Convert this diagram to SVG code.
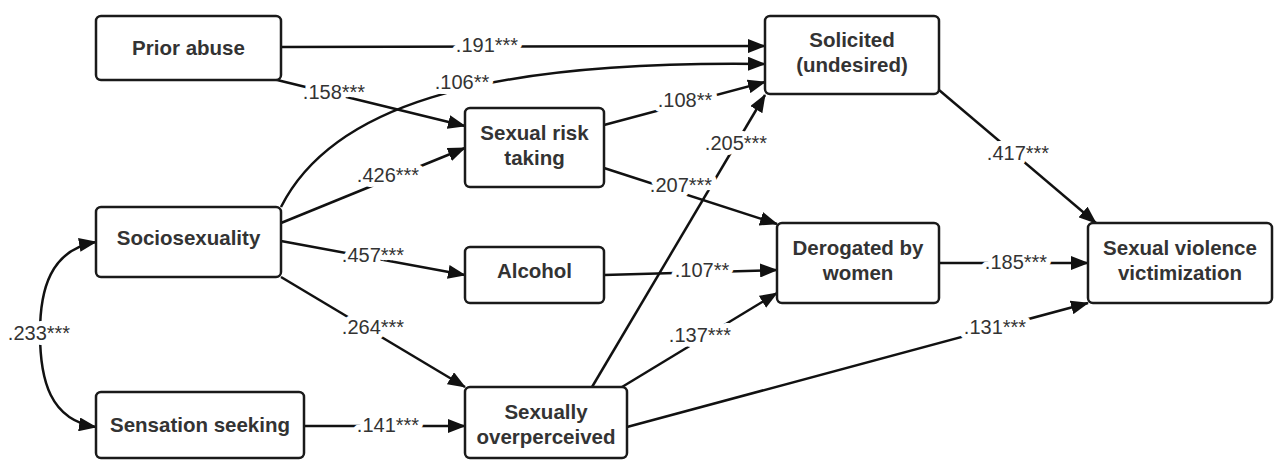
<svg xmlns="http://www.w3.org/2000/svg" width="1274" height="461" viewBox="0 0 1274 461">
<style>
.box{fill:#fff;stroke:#1a1a1a;stroke-width:2.5}
.nt{font-family:"Liberation Sans",Arial,sans-serif;font-weight:bold;font-size:20.5px;fill:#333;text-anchor:middle}
.e{fill:none;stroke:#111;stroke-width:2.5;marker-end:url(#ah)}
.el{font-family:"Liberation Sans",Arial,sans-serif;font-size:20px;fill:#333;text-anchor:middle;stroke:#fff;stroke-width:10;paint-order:stroke;stroke-linejoin:round}
</style>
<defs>
<marker id="ah" markerUnits="userSpaceOnUse" markerWidth="18" markerHeight="14" refX="17" refY="7" orient="auto-start-reverse" viewBox="0 0 18 14">
<path d="M0,0 L18,7 L0,14 z" fill="#111"/>
</marker>
</defs>
<rect width="1274" height="461" fill="#fff"/>
<g id="connectors">
<path class="e" d="M281,47 L765,46"/>
<path class="e" d="M281,207 C330,110 470,60 765,64"/>
<path class="e" d="M273,79 L465,126"/>
<path class="e" d="M281,223 L465,148"/>
<path class="e" d="M604,125 L765,82"/>
<path class="e" d="M604,168 L777,224"/>
<path class="e" d="M281,241 L465,275"/>
<path class="e" d="M281,277 L465,387"/>
<path class="e" d="M304,426 L465,426"/>
<path class="e" style="marker-start:url(#ah)" d="M96,242 C50,250 40,290 40,333 C40,380 50,420 96,427"/>
<path class="e" d="M604,275 L777,270"/>
<path class="e" d="M592,387 L765,95"/>
<path class="e" d="M622,387 L777,293"/>
<path class="e" d="M627,427 L1088,303"/>
<path class="e" d="M939,263 L1088,263"/>
<path class="e" d="M939,90 L1096,223"/>
<text class="el" x="487" y="52">.191***</text>
<text class="el" x="462" y="89">.106**</text>
<text class="el" x="334" y="99">.158***</text>
<text class="el" x="388" y="182">.426***</text>
<text class="el" x="685" y="107">.108**</text>
<text class="el" x="681" y="192">.207***</text>
<text class="el" x="373" y="262">.457***</text>
<text class="el" x="373" y="334">.264***</text>
<text class="el" x="388" y="432">.141***</text>
<text class="el" x="39" y="340">.233***</text>
<text class="el" x="702" y="277">.107**</text>
<text class="el" x="736" y="150">.205***</text>
<text class="el" x="700" y="342">.137***</text>
<text class="el" x="995" y="334">.131***</text>
<text class="el" x="1016" y="269">.185***</text>
<text class="el" x="1018" y="160">.417***</text>
</g>
<g id="prior-abuse"><rect class="box" x="96" y="16" width="185" height="64" rx="5"/><text class="nt" x="188.5" y="55">Prior abuse</text></g>
<g id="sexual-risk-taking"><rect class="box" x="465" y="108" width="139" height="79" rx="5"/><text class="nt" x="534.5" y="140">Sexual risk</text><text class="nt" x="534.5" y="165">taking</text></g>
<g id="solicited"><rect class="box" x="765" y="16" width="174" height="78" rx="5"/><text class="nt" x="852" y="47">Solicited</text><text class="nt" x="852" y="72">(undesired)</text></g>
<g id="sociosexuality"><rect class="box" x="96" y="207" width="185" height="70" rx="5"/><text class="nt" x="188.5" y="245">Sociosexuality</text></g>
<g id="sensation-seeking"><rect class="box" x="96" y="392" width="208" height="66" rx="5"/><text class="nt" x="200" y="432">Sensation seeking</text></g>
<g id="alcohol"><rect class="box" x="465" y="247" width="139" height="56" rx="5"/><text class="nt" x="534.5" y="278">Alcohol</text></g>
<g id="sexually-overperceived"><rect class="box" x="465" y="387" width="162" height="71" rx="5"/><text class="nt" x="546" y="419">Sexually</text><text class="nt" x="546" y="444">overperceived</text></g>
<g id="derogated"><rect class="box" x="777" y="223" width="162" height="80" rx="5"/><text class="nt" x="858" y="255">Derogated by</text><text class="nt" x="858" y="280">women</text></g>
<g id="sv-victimization"><rect class="box" x="1088" y="223" width="184" height="80" rx="5"/><text class="nt" x="1180" y="255">Sexual violence</text><text class="nt" x="1180" y="280">victimization</text></g>
</svg>
